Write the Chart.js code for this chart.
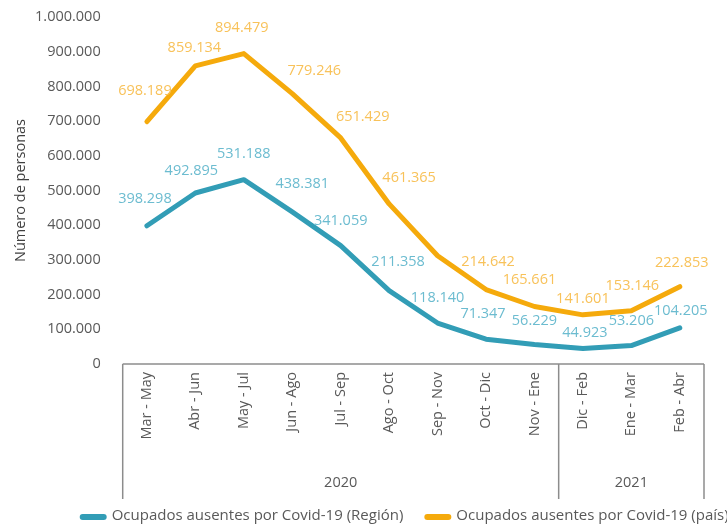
<!DOCTYPE html>
<html>
<head>
<meta charset="utf-8">
<script src="https://cdn.jsdelivr.net/npm/chart.js@4.4.1/dist/chart.umd.min.js"></script>
<style>
  html, body { margin: 0; padding: 0; background: #fff; }
  #wrap { width: 727px; height: 526px; }
</style>
</head>
<body>
<div id="wrap"><canvas id="chart"></canvas></div>
<script>
// periods (trimestres móviles)
const periods = ['Mar - May', 'Abr - Jun', 'May - Jul', 'Jun - Ago', 'Jul - Sep', 'Ago - Oct',
                 'Sep - Nov', 'Oct - Dic', 'Nov - Ene', 'Dic - Feb', 'Ene - Mar', 'Feb - Abr'];
const years = ['2020', '2021'];
const yearCounts = [9, 3];

const region = [398298, 492895, 531188, 438381, 341059, 211358, 118140, 71347, 56229, 44923, 53206, 104205];
const pais = [698189, 859134, 894479, 779246, 651429, 461365, 312000, 214642, 165661, 141601, 153146, 222853];
// the Sep - Nov value of the country series carries no label in the source
const paisNoLabel = [6];

const yTicks = [0, 100000, 200000, 300000, 400000, 500000, 600000, 700000, 800000, 900000, 1000000];

const FONT = '"Open Sans", "Noto Sans", sans-serif';
const TEXT = '#595959';

function fmt(v) {
    return String(v).replace(/\B(?=(\d{3})+(?!\d))/g, '.');
}

// label nudges (dx, dy) from each point, as placed in the original
const labelNudge = {
    region: [[-2,-27],[-4,-22],[0,-26],[10,-28],[0,-25],[9,-29],[0,-25],[-3,-25],[0,-24],[2,-16],[0,-25],[1,-17]],
    pais:   [[-2,-31],[-1,-18],[-2,-26],[22,-23],[22,-21],[20,-26],[0,-25],[2,-28],[-5,-27],[0,-16],[1,-25],[2,-24]]
};

const pointLabels = {
    id: 'pointLabels',
    afterDatasetsDraw(chart) {
        const ctx = chart.ctx;
        ctx.save();
        ctx.font = '14.5px ' + FONT;
        ctx.textAlign = 'center';
        ctx.textBaseline = 'middle';
        chart.data.datasets.forEach((ds, di) => {
            const meta = chart.getDatasetMeta(di);
            ctx.fillStyle = ds.labelColor;
            meta.data.forEach((pt, i) => {
                if (ds.skipLabels.includes(i)) return;
                const n = ds.nudge[i];
                ctx.fillText(fmt(ds.data[i]), pt.x + n[0], pt.y + n[1]);
            });
        });
        ctx.restore();
    }
};

const yearTable = {
    id: 'yearTable',
    afterDraw(chart) {
        const ctx = chart.ctx;
        const area = chart.chartArea;
        const x = chart.scales.x;
        const top = area.bottom;
        const bottom = top + 135;
        ctx.save();
        ctx.strokeStyle = '#8c8c8c';
        ctx.lineWidth = 1.5;
        ctx.beginPath();
        ctx.moveTo(area.left, top);
        ctx.lineTo(area.right, top);
        ctx.stroke();

        const edges = [area.left];
        let idx = 0;
        yearCounts.forEach(c => {
            idx += c;
            if (idx < periods.length) {
                edges.push((x.getPixelForTick(idx - 1) + x.getPixelForTick(idx)) / 2);
            } else {
                edges.push(area.right);
            }
        });
        edges.forEach(e => {
            ctx.beginPath();
            ctx.moveTo(e, top);
            ctx.lineTo(e, bottom);
            ctx.stroke();
        });

        ctx.fillStyle = TEXT;
        ctx.font = '14.5px ' + FONT;
        ctx.textAlign = 'center';
        ctx.textBaseline = 'middle';
        years.forEach((y, i) => {
            ctx.fillText(y, (edges[i] + edges[i + 1]) / 2, top + 119);
        });
        ctx.restore();
    }
};

const bottomLegend = {
    id: 'bottomLegend',
    afterDraw(chart) {
        const ctx = chart.ctx;
        const area = chart.chartArea;
        const cy = 516;
        const boxW = 27, boxH = 6, gap = 5, spacing = 21;
        ctx.save();
        ctx.font = '15px ' + FONT;
        ctx.textBaseline = 'middle';
        ctx.textAlign = 'left';
        let cx = area.left - 43;
        chart.data.datasets.forEach(ds => {
            const w = ctx.measureText(ds.label).width;
            ctx.fillStyle = ds.borderColor;
            ctx.beginPath();
            ctx.roundRect(cx, cy - boxH / 2 + 1, boxW, boxH, boxH / 2);
            ctx.fill();
            ctx.fillStyle = TEXT;
            ctx.fillText(ds.label, cx + boxW + gap, cy);
            cx += boxW + gap + w + spacing;
        });
        ctx.restore();
    }
};

new Chart(document.getElementById('chart'), {
    type: 'line',
    data: {
        labels: periods,
        datasets: [{
            label: 'Ocupados ausentes por Covid-19 (Región)',
            data: region,
            borderColor: '#329db6',
            labelColor: '#6cbcd0',
            nudge: labelNudge.region,
            skipLabels: [],
            borderWidth: 5,
            pointRadius: 0,
            tension: 0,
            borderJoinStyle: 'round',
            borderCapStyle: 'round',
            fill: false
        }, {
            label: 'Ocupados ausentes por Covid-19 (país)',
            data: pais,
            borderColor: '#f5aa0c',
            labelColor: '#f8c25a',
            nudge: labelNudge.pais,
            skipLabels: paisNoLabel,
            borderWidth: 5,
            pointRadius: 0,
            tension: 0,
            borderJoinStyle: 'round',
            borderCapStyle: 'round',
            fill: false
        }]
    },
    options: {
        responsive: true,
        maintainAspectRatio: false,
        animation: false,
        layout: {
            padding: { top: 17, right: 23, bottom: 27, left: 0 }
        },
        scales: {
            x: {
                offset: true,
                grid: { display: false, drawTicks: false },
                border: { display: false },
                ticks: {
                    color: TEXT,
                    font: { family: FONT, size: 14.5 },
                    minRotation: 90,
                    maxRotation: 90,
                    autoSkip: false,
                    padding: 8
                },
                afterFit: s => { s.height = 135; }
            },
            y: {
                min: 0,
                max: 1000000,
                afterBuildTicks: s => { s.ticks = yTicks.map(v => ({ value: v })); },
                // invisible tick marks give the gap between labels and plot
                grid: { display: false, drawTicks: true, tickLength: 22 },
                border: { display: false },
                ticks: {
                    color: TEXT,
                    font: { family: FONT, size: 14.5 },
                    padding: 0,
                    callback: v => fmt(v)
                },
                title: {
                    display: true,
                    text: 'Número de personas',
                    color: '#404040',
                    font: { family: FONT, size: 14.5 },
                    padding: { top: 12, bottom: 0 }
                },
                afterFit: s => { s.width = 122.7; }
            }
        },
        plugins: {
            legend: { display: false },
            tooltip: { enabled: false }
        }
    },
    plugins: [pointLabels, yearTable, bottomLegend]
});
</script>
</body>
</html>
